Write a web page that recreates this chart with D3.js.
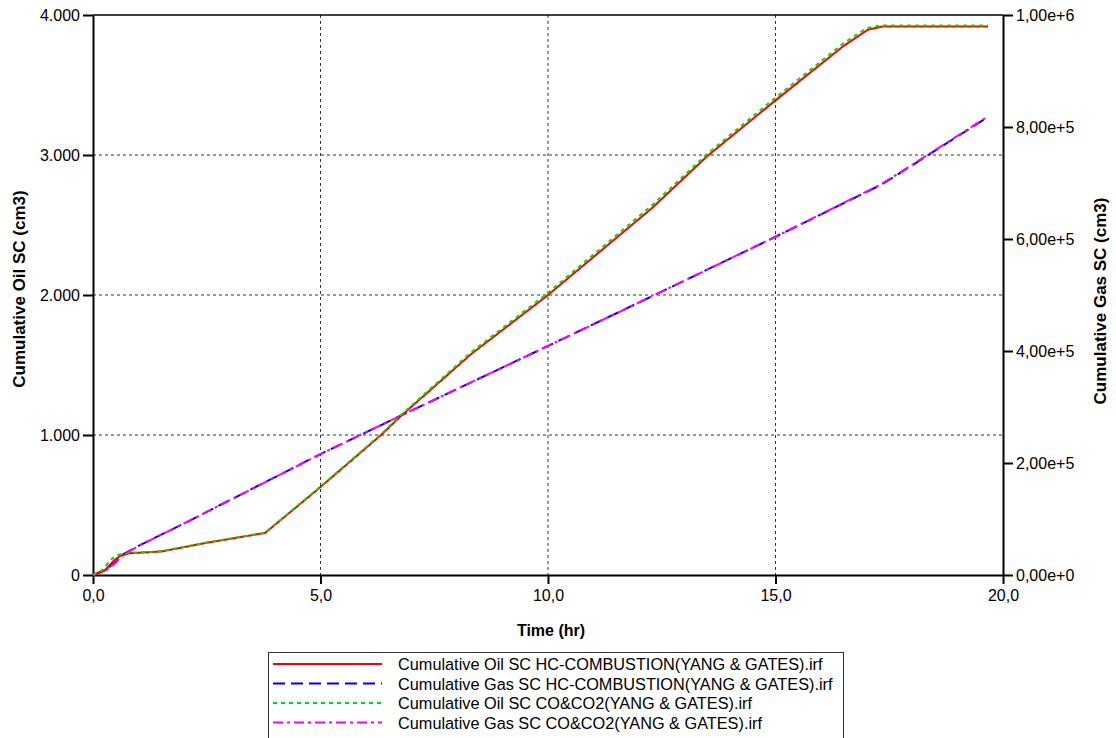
<!DOCTYPE html>
<html lang="en">
<head>
    <meta charset="UTF-8">
    <script src="https://cdn.jsdelivr.net/npm/d3@7"></script>
    <title>Cumulative Oil / Gas SC</title>
    <style>
        body { margin: 0; background: #fff; }
        text { font-family: "Liberation Sans", Arial, sans-serif; }
    </style>
</head>
<body>
</body>
<script>

    // time ticks and labels
    let xTicks = [0, 5, 10, 15, 20],
        xTickLabels = ["0,0", "5,0", "10,0", "15,0", "20,0"],
        yTicks = [0, 1000, 2000, 3000, 4000],
        yTickLabels = ["0", "1.000", "2.000", "3.000", "4.000"],
        y2Ticks = [0, 2e5, 4e5, 6e5, 8e5, 1e6],
        y2TickLabels = ["0,00e+0", "2,00e+5", "4,00e+5", "6,00e+5", "8,00e+5", "1,00e+6"];

    // series: [time hr, value]
    let oilHC = [[0, 0], [0.25, 30], [0.45, 100], [0.6, 138], [0.8, 155], [1.5, 168], [2.5, 230],
        [3.78, 300], [4.1, 385], [5, 629], [6.33, 1000], [6.75, 1130], [8.3, 1575], [10, 2000],
        [12.3, 2625], [13.49, 2990], [15, 3390], [16.5, 3780], [17.03, 3895], [17.35, 3918], [19.67, 3918]];

    let oilCO = [[0, 0], [0.2, 35], [0.4, 112], [0.55, 145], [0.8, 157], [1.5, 170], [2.5, 232],
        [3.78, 302], [4.1, 388], [5, 632], [6.33, 1005], [6.75, 1138], [8.3, 1588], [10, 2015],
        [12.3, 2645], [13.49, 3005], [15, 3410], [16.5, 3800], [17.0, 3905], [17.3, 3925], [19.67, 3925]];

    let gasHC = [[0, 0], [0.3, 10000], [0.5, 24000], [0.66, 37000], [1, 52000], [2, 92000],
        [3.45, 152000], [5, 216000], [6.75, 284000], [10, 409000], [12.24, 496000], [15, 604000],
        [17.3, 696000], [17.74, 718000], [19.67, 818000]];

    let gasCO = [[0, 0], [0.3, 9000], [0.5, 22000], [0.66, 36000], [1, 52000], [2, 92000],
        [3.45, 152000], [5, 216000], [6.75, 284000], [10, 409000], [12.24, 496000], [15, 604000],
        [17.3, 697000], [17.74, 719000], [19.67, 819000]];

    let seriesNames = [
        "Cumulative Oil SC HC-COMBUSTION(YANG & GATES).irf",
        "Cumulative Gas SC HC-COMBUSTION(YANG & GATES).irf",
        "Cumulative Oil SC CO&CO2(YANG & GATES).irf",
        "Cumulative Gas SC CO&CO2(YANG & GATES).irf"
    ];

    let width = 1116,
        height = 738,
        pLeft = 93, pRight = 1003, pTop = 15, pBottom = 575;

    let x = d3.scaleLinear().domain([0, 20]).range([pLeft, pRight]),
        y = d3.scaleLinear().domain([0, 4000]).range([pBottom, pTop]),
        y2 = d3.scaleLinear().domain([0, 1e6]).range([pBottom, pTop]);

    let svg = d3.select("body")
        .append("svg")
        .attr("width", width)
        .attr("height", height);

    // grid
    svg.append("g")
        .selectAll("line.vg")
        .data(xTicks.slice(1, -1))
        .enter()
        .append("line")
        .attr("x1", d => x(d)).attr("x2", d => x(d))
        .attr("y1", pTop).attr("y2", pBottom)
        .attr("stroke", "#333").attr("stroke-width", 1)
        .attr("stroke-dasharray", "3,3");

    svg.append("g")
        .selectAll("line.hg")
        .data(yTicks.slice(1, -1))
        .enter()
        .append("line")
        .attr("x1", pLeft).attr("x2", pRight)
        .attr("y1", d => y(d)).attr("y2", d => y(d))
        .attr("stroke", "#333").attr("stroke-width", 1)
        .attr("stroke-dasharray", "3,3");

    // frame top
    svg.append("line")
        .attr("x1", pLeft).attr("x2", pRight)
        .attr("y1", pTop).attr("y2", pTop)
        .attr("stroke", "#000").attr("stroke-width", 1.5);

    let xAxis = svg.append("g")
        .attr("transform", `translate(0,${pBottom})`)
        .call(d3.axisBottom(x).tickValues(xTicks)
            .tickFormat((d, i) => xTickLabels[i]).tickSize(9).tickSizeOuter(0).tickPadding(6));

    let yAxis = svg.append("g")
        .attr("transform", `translate(${pLeft},0)`)
        .call(d3.axisLeft(y).tickValues(yTicks)
            .tickFormat((d, i) => yTickLabels[i]).tickSize(10).tickSizeOuter(0).tickPadding(3));

    let y2Axis = svg.append("g")
        .attr("transform", `translate(${pRight},0)`)
        .call(d3.axisRight(y2).tickValues(y2Ticks)
            .tickFormat((d, i) => y2TickLabels[i]).tickSize(10).tickSizeOuter(0).tickPadding(3));

    [xAxis, yAxis, y2Axis].forEach(g => {
        g.select(".domain").attr("stroke", "#000").attr("stroke-width", 2);
        g.selectAll(".tick line").attr("stroke", "#000").attr("stroke-width", 2);
        g.selectAll(".tick text").attr("font-size", 16).attr("fill", "#000")
            .style("font-family", "'Liberation Sans', Arial, sans-serif");
    });

    // axis titles
    svg.append("text")
        .attr("x", (pLeft + pRight) / 2 + 3).attr("y", 636)
        .attr("text-anchor", "middle")
        .attr("font-size", 16).attr("font-weight", "bold")
        .text("Time (hr)");

    svg.append("text")
        .attr("transform", `translate(25,${(pTop + pBottom) / 2 - 6}) rotate(-90)`)
        .attr("text-anchor", "middle")
        .attr("font-size", 17).attr("font-weight", "bold")
        .text("Cumulative Oil SC (cm3)");

    svg.append("text")
        .attr("transform", `translate(1106,${(pTop + pBottom) / 2 + 6}) rotate(-90)`)
        .attr("text-anchor", "middle")
        .attr("font-size", 17).attr("font-weight", "bold")
        .text("Cumulative Gas SC (cm3)");

    // lines
    let lineOil = d3.line().x(d => x(d[0])).y(d => y(d[1])),
        lineGas = d3.line().x(d => x(d[0])).y(d => y2(d[1]));

    let styles = [
        { color: "#ff0000", dash: null },
        { color: "#0000ff", dash: "12,6" },
        { color: "#00dd00", dash: "4,4" },
        { color: "#ff00ff", dash: "10,4,3,4" }
    ];

    let plots = [
        { data: gasHC, gen: lineGas, s: styles[1] },
        { data: gasCO, gen: lineGas, s: styles[3] },
        { data: oilHC, gen: lineOil, s: styles[0] },
        { data: oilCO, gen: lineOil, s: styles[2] }
    ];

    svg.append("g")
        .selectAll("path.line")
        .data(plots)
        .enter()
        .append("path")
        .attr("class", "line")
        .attr("d", d => d.gen(d.data))
        .attr("fill", "none")
        .attr("stroke", d => d.s.color)
        .attr("stroke-width", 2)
        .attr("stroke-dasharray", d => d.s.dash);

    // legend
    let legend = svg.append("g");
    legend.append("rect")
        .attr("x", 268.5).attr("y", 652.5)
        .attr("width", 575).attr("height", 90)
        .attr("fill", "#fff").attr("stroke", "#333").attr("stroke-width", 1);

    let rows = legend.selectAll("g.row")
        .data(seriesNames)
        .enter()
        .append("g")
        .attr("transform", (d, i) => `translate(0,${664 + i * 19.5})`);

    rows.append("line")
        .attr("x1", 273).attr("x2", 382)
        .attr("stroke", (d, i) => styles[i].color)
        .attr("stroke-width", 2)
        .attr("stroke-dasharray", (d, i) => styles[i].dash);

    rows.append("text")
        .attr("x", 398).attr("y", 6)
        .attr("font-size", 16.3)
        .text(d => d);

</script>
</html>
